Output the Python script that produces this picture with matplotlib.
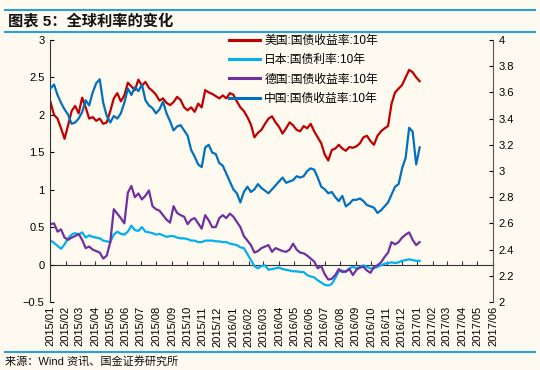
import matplotlib
matplotlib.use('Agg')
import matplotlib.pyplot as plt
import matplotlib.dates as mdates
from matplotlib.lines import Line2D
import pandas as pd

plt.rcParams['font.family'] = ['Liberation Sans', 'Noto Sans CJK SC', 'DejaVu Sans']

# weekly observations, 2015-01-02 .. 2017-01-06
dates = pd.date_range('2015-01-02', periods=106, freq='7D')

us_10y = [2.17, 2.00, 1.95, 1.82, 1.68, 1.86, 2.05, 2.12, 2.02, 2.23,
          2.10, 1.95, 1.97, 1.92, 1.95, 1.88, 1.90, 2.05, 2.22, 2.29,
          2.18, 2.26, 2.43, 2.38, 2.33, 2.47, 2.39, 2.44, 2.36, 2.32,
          2.27, 2.19, 2.22, 2.16, 2.13, 2.17, 2.24, 2.20, 2.10, 2.06,
          2.10, 2.04, 2.15, 2.10, 2.33, 2.30, 2.28, 2.25, 2.22, 2.26,
          2.22, 2.29, 2.27, 2.18, 2.10, 2.05, 1.97, 1.87, 1.70, 1.76,
          1.80, 1.88, 1.95, 1.98, 1.90, 1.84, 1.75, 1.82, 1.90, 1.86,
          1.80, 1.78, 1.85, 1.82, 1.88, 1.78, 1.70, 1.62, 1.47, 1.39,
          1.53, 1.55, 1.60, 1.55, 1.52, 1.57, 1.56, 1.58, 1.62, 1.70,
          1.72, 1.65, 1.60, 1.72, 1.78, 1.82, 1.85, 2.15, 2.30, 2.35,
          2.40, 2.50, 2.60, 2.57, 2.50, 2.45]

jp_10y = [0.32, 0.29, 0.25, 0.21, 0.27, 0.35, 0.40, 0.42, 0.40, 0.43,
          0.36, 0.39, 0.37, 0.36, 0.35, 0.32, 0.31, 0.30, 0.40, 0.44,
          0.41, 0.40, 0.44, 0.52, 0.46, 0.45, 0.50, 0.44, 0.43, 0.42,
          0.40, 0.41, 0.39, 0.37, 0.38, 0.38, 0.36, 0.35, 0.35, 0.34,
          0.32, 0.32, 0.30, 0.30, 0.32, 0.32, 0.32, 0.31, 0.31, 0.30,
          0.30, 0.28, 0.27, 0.26, 0.23, 0.22, 0.14, 0.06, -0.02, -0.05,
          -0.02, -0.01, -0.07, -0.06, -0.05, -0.04, -0.06, -0.07, -0.08, -0.09,
          -0.09, -0.10, -0.10, -0.14, -0.16, -0.17, -0.21, -0.24, -0.27, -0.28,
          -0.26, -0.18, -0.09, -0.08, -0.10, -0.05, -0.03, -0.05, -0.03, -0.01,
          -0.03, -0.05, -0.05, -0.03, -0.01, 0.01, 0.02, 0.03, 0.02, 0.03,
          0.05, 0.06, 0.07, 0.06, 0.05, 0.05]

de_10y = [0.54, 0.55, 0.44, 0.47, 0.36, 0.33, 0.36, 0.38, 0.41, 0.33,
          0.22, 0.24, 0.20, 0.18, 0.16, 0.08, 0.12, 0.30, 0.74, 0.68,
          0.62, 0.55, 0.96, 1.05, 0.90, 0.95, 0.87, 0.92, 0.99, 0.78,
          0.74, 0.72, 0.66, 0.60, 0.56, 0.78, 0.69, 0.66, 0.64, 0.54,
          0.60, 0.62, 0.55, 0.48, 0.66, 0.59, 0.50, 0.50, 0.62, 0.66,
          0.62, 0.68, 0.64, 0.57, 0.50, 0.38, 0.32, 0.26, 0.16, 0.18,
          0.22, 0.24, 0.26, 0.17, 0.22, 0.20, 0.18, 0.17, 0.20, 0.28,
          0.20, 0.16, 0.15, 0.12, 0.08, 0.04, -0.05, -0.02, -0.13, -0.20,
          -0.19, -0.14, -0.06, -0.10, -0.09, -0.06, -0.14, -0.07, -0.04, -0.03,
          -0.08, -0.11, -0.03, -0.01, 0.03, 0.10, 0.16, 0.30, 0.27, 0.30,
          0.36, 0.40, 0.43, 0.33, 0.26, 0.30]

cn_10y = [3.63, 3.66, 3.58, 3.52, 3.47, 3.43, 3.36, 3.37, 3.40, 3.45,
          3.54, 3.50, 3.60, 3.67, 3.70, 3.52, 3.42, 3.37, 3.42, 3.40,
          3.44, 3.52, 3.63, 3.58, 3.64, 3.61, 3.66, 3.54, 3.50, 3.48,
          3.44, 3.47, 3.53, 3.44, 3.38, 3.31, 3.34, 3.35, 3.31, 3.27,
          3.16, 3.11, 3.05, 3.03, 3.18, 3.20, 3.14, 3.13, 3.06, 3.04,
          2.98, 2.92, 2.86, 2.83, 2.76, 2.84, 2.88, 2.84, 2.86, 2.90,
          2.87, 2.85, 2.83, 2.86, 2.89, 2.92, 2.95, 2.91, 2.92, 2.93,
          2.96, 2.95, 2.96, 3.00, 3.02, 3.01, 2.95, 2.88, 2.86, 2.83,
          2.84, 2.80, 2.77, 2.81, 2.73, 2.75, 2.78, 2.78, 2.79, 2.77,
          2.74, 2.73, 2.72, 2.68, 2.70, 2.73, 2.76, 2.82, 2.88, 2.90,
          3.02, 3.10, 3.33, 3.30, 3.05, 3.18]

labels = ['美国:国债收益率:10年', '日本:国债利率:10年',
          '德国:国债收益率:10年', '中国:国债收益率:10年']
colors = ['#C00000', '#00B0F0', '#7030A0', '#0070C0']

months = pd.date_range('2015-01-01', '2017-06-01', freq='MS')
month_labels = [m.strftime('%Y/%m') for m in months]
left_ticks = [-0.5, 0, 0.5, 1, 1.5, 2, 2.5, 3]
right_ticks = [2, 2.2, 2.4, 2.6, 2.8, 3, 3.2, 3.4, 3.6, 3.8, 4]

bg = '#FEFAF0'
fig = plt.figure(figsize=(5.4, 3.7), dpi=100, facecolor=bg)
ax = fig.add_axes([0.0926, 0.1838, 0.8204, 0.7081])
ax.set_facecolor(bg)

x = mdates.date2num(dates)
xm = mdates.date2num(months)

l1, = ax.plot(x, us_10y, color=colors[0], lw=1.6, label=labels[0])
l2, = ax.plot(x, jp_10y, color=colors[1], lw=1.6, label=labels[1])
l3, = ax.plot(x, de_10y, color=colors[2], lw=1.6, label=labels[2])
ax.set_ylim(-0.5, 3)
ax.set_yticks(left_ticks)
ax.set_yticklabels([('%g' % v).replace('-', '\u2212') for v in left_ticks])
ax.set_xlim(xm[0], xm[-1])
ax.set_xticks(xm)
ax.set_xticklabels(month_labels, rotation=90, fontsize=8)
ax.tick_params(axis='x', length=0, pad=3)
ax.tick_params(axis='y', direction='in', length=3, labelsize=8, pad=4)
ax.spines['top'].set_visible(False)
ax.spines['bottom'].set_visible(False)
ax.spines['right'].set_visible(False)
ax.spines['left'].set_color('#333333')
ax.spines['left'].set_linewidth(0.8)

# zero line carrying the month tick marks
zero = ax.secondary_xaxis(0.5 / 3.5)
zero.set_xticks(xm)
zero.tick_params(direction='in', length=3, labelbottom=False, color='#333333')
zero.spines['bottom'].set_color('#333333')
zero.spines['bottom'].set_linewidth(0.8)

ax2 = ax.twinx()
l4, = ax2.plot(x, cn_10y, color=colors[3], lw=1.6, label=labels[3])
ax2.set_ylim(2, 4)
ax2.set_yticks(right_ticks)
ax2.set_yticklabels(['%g' % v for v in right_ticks])
ax2.tick_params(axis='y', direction='in', length=3, labelsize=8, pad=4)
for s in ['top', 'bottom', 'left']:
    ax2.spines[s].set_visible(False)
ax2.spines['right'].set_color('#555555')
ax2.spines['right'].set_linewidth(0.8)

leg = ax2.legend(handles=[l1, l2, l3, l4], loc='upper left',
                 bbox_to_anchor=(0.405, 1.02), frameon=False, fontsize=8.5,
                 handlelength=2.6, handletextpad=0.35, labelspacing=0.62,
                 borderpad=0, borderaxespad=0)
for h in leg.get_lines():
    h.set_linewidth(2.2)

# header / footer
bar = '#2A9FD8'
fig.add_artist(Line2D([0.009, 0.991], [0.973, 0.973], color=bar, lw=1.5))
fig.add_artist(Line2D([0.009, 0.991], [0.9135, 0.9135], color=bar, lw=1.5))
fig.add_artist(Line2D([0.009, 0.991], [0.0486, 0.0486], color=bar, lw=1.5))
fig.text(0.015, 0.943, '图表 5：全球利率的变化', fontsize=11, fontweight='bold',
         va='center', ha='left', color='#111111')
fig.text(0.009, 0.021, '来源：Wind 资讯、国金证券研究所', fontsize=8,
         va='center', ha='left', color='#111111')

fig.savefig('out.png', dpi=100, facecolor=bg)
